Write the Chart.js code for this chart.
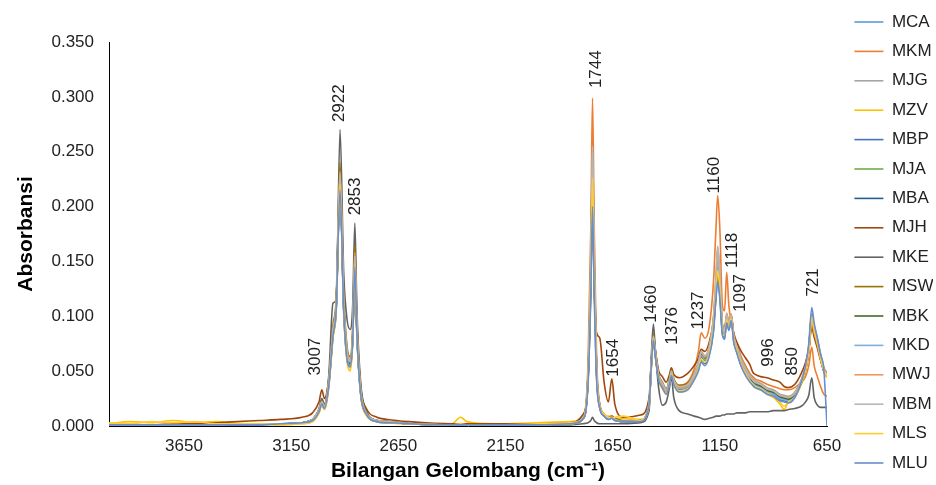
<!DOCTYPE html>
<html>
<head>
<meta charset="utf-8">
<script src="https://cdn.jsdelivr.net/npm/chart.js@4.4.0/dist/chart.umd.min.js"></script>
<style>
  html, body { margin: 0; padding: 0; background: #fff; }
  #wrap { width: 936px; height: 485px; position: relative; }
</style>
</head>
<body>
<div id="wrap"><canvas id="ftir"></canvas></div>
<script>
// wavenumber grid (cm-1), high to low
var wavenumbers = [
  4000,3900,3800,3700,3600,3500,3400,3300,3200,3100,3050,
  3020,3007,2995,2975,2955,2940,2922,2905,2890,2875,2863,2853,2843,2825,2800,
  2750,2700,2600,2400,2360,2330,2200,2000,1850,1790,
  1765,1752,1744,1736,1725,1710,1690,1670,1654,1640,1600,1520,
  1480,1470,1460,1450,1435,1418,1400,1385,1376,1365,1340,1300,
  1270,1250,1237,1220,1200,1180,1168,1160,1150,1138,1128,1118,1108,1097,1085,1070,
  1050,1030,1010,996,985,960,930,900,870,850,830,800,770,750,735,721,710,695,680,665,650
];

var xTicks = [3650, 3150, 2650, 2150, 1650, 1150, 650];

var mca = [
  0.001,0.001,0.001,0.001,0.001,0.001,0.002,0.002,0.002,0.003,0.006,
  0.014,0.021,0.017,0.038,0.084,0.108,0.220,0.110,0.066,0.056,0.080,0.148,0.085,0.030,0.012,
  0.005,0.004,0.002,0.001,0.001,0.001,0.001,0.001,0.002,0.006,
  0.045,0.140,0.235,0.140,0.050,0.018,0.010,0.007,0.008,0.006,0.004,0.005,
  0.020,0.055,0.080,0.064,0.044,0.037,0.031,0.040,0.048,0.040,0.034,0.036,
  0.045,0.055,0.064,0.060,0.068,0.092,0.125,0.148,0.128,0.088,0.084,0.098,0.090,0.100,0.080,0.070,
  0.058,0.050,0.043,0.040,0.038,0.036,0.032,0.030,0.026,0.025,0.024,0.028,0.040,0.052,0.070,0.100,0.088,0.076,0.062,0.050,0.045
];
var mkm = [
  0.001,0.001,0.001,0.001,0.001,0.001,0.002,0.002,0.002,0.003,0.006,
  0.015,0.022,0.018,0.040,0.086,0.110,0.225,0.112,0.068,0.058,0.083,0.155,0.088,0.031,0.012,
  0.005,0.004,0.002,0.001,0.001,0.001,0.001,0.001,0.002,0.007,
  0.057,0.180,0.299,0.180,0.063,0.020,0.011,0.008,0.009,0.006,0.004,0.005,
  0.019,0.052,0.077,0.062,0.044,0.038,0.033,0.042,0.052,0.043,0.037,0.040,
  0.052,0.068,0.085,0.080,0.090,0.130,0.180,0.210,0.180,0.110,0.105,0.140,0.110,0.095,0.085,0.075,
  0.063,0.055,0.048,0.045,0.043,0.041,0.038,0.036,0.034,0.033,0.033,0.035,0.040,0.045,0.055,0.072,0.055,0.045,0.036,0.029,0.027
];
var mjg = [
  0.001,0.001,0.001,0.001,0.001,0.002,0.002,0.002,0.002,0.003,0.006,
  0.015,0.022,0.018,0.040,0.088,0.112,0.228,0.114,0.068,0.058,0.082,0.152,0.087,0.031,0.012,
  0.005,0.004,0.002,0.001,0.001,0.001,0.001,0.001,0.002,0.007,
  0.048,0.153,0.255,0.153,0.054,0.019,0.010,0.007,0.008,0.006,0.004,0.005,
  0.021,0.057,0.082,0.066,0.046,0.039,0.033,0.042,0.050,0.042,0.036,0.038,
  0.047,0.058,0.068,0.064,0.072,0.098,0.135,0.163,0.138,0.092,0.087,0.100,0.093,0.102,0.083,0.073,
  0.061,0.053,0.046,0.043,0.041,0.039,0.035,0.033,0.029,0.028,0.027,0.031,0.042,0.055,0.073,0.102,0.091,0.080,0.066,0.054,0.048
];
var mzv = [
  0.002,0.004,0.003,0.005,0.003,0.004,0.002,0.002,0.001,0.002,0.004,
  0.012,0.019,0.015,0.034,0.080,0.104,0.218,0.104,0.060,0.050,0.076,0.145,0.080,0.027,0.010,
  0.004,0.003,0.002,0.002,0.008,0.004,0.002,0.003,0.004,0.007,
  0.043,0.137,0.228,0.137,0.048,0.017,0.010,0.009,0.008,0.007,0.007,0.006,
  0.018,0.052,0.078,0.062,0.042,0.034,0.029,0.037,0.046,0.038,0.031,0.033,
  0.042,0.051,0.060,0.057,0.065,0.088,0.120,0.140,0.122,0.085,0.081,0.098,0.089,0.098,0.078,0.067,
  0.055,0.047,0.040,0.037,0.035,0.033,0.029,0.026,0.020,0.015,0.022,0.026,0.038,0.050,0.068,0.098,0.087,0.075,0.061,0.050,0.044
];
var mbp = [
  0.001,0.001,0.001,0.001,0.001,0.001,0.001,0.002,0.002,0.003,0.005,
  0.013,0.020,0.016,0.036,0.082,0.106,0.216,0.106,0.062,0.054,0.078,0.146,0.082,0.028,0.011,
  0.004,0.003,0.002,0.001,0.001,0.001,0.001,0.001,0.002,0.006,
  0.041,0.129,0.215,0.129,0.045,0.016,0.009,0.006,0.007,0.005,0.004,0.004,
  0.019,0.054,0.079,0.063,0.043,0.036,0.030,0.039,0.047,0.039,0.032,0.034,
  0.043,0.052,0.060,0.057,0.065,0.087,0.118,0.135,0.118,0.084,0.080,0.095,0.088,0.097,0.077,0.067,
  0.055,0.047,0.041,0.038,0.036,0.034,0.030,0.028,0.024,0.023,0.022,0.027,0.040,0.053,0.072,0.102,0.090,0.078,0.064,0.052,0.046
];
var mja = [
  0.001,0.001,0.001,0.001,0.001,0.001,0.002,0.002,0.002,0.003,0.006,
  0.014,0.021,0.017,0.039,0.086,0.110,0.226,0.112,0.067,0.057,0.081,0.150,0.086,0.030,0.012,
  0.005,0.004,0.002,0.001,0.001,0.001,0.001,0.001,0.002,0.006,
  0.046,0.144,0.240,0.144,0.050,0.018,0.010,0.007,0.008,0.006,0.004,0.005,
  0.020,0.055,0.081,0.065,0.045,0.038,0.032,0.041,0.049,0.041,0.035,0.037,
  0.046,0.056,0.065,0.061,0.069,0.093,0.127,0.150,0.130,0.090,0.086,0.102,0.094,0.101,0.081,0.071,
  0.059,0.051,0.044,0.041,0.039,0.037,0.033,0.031,0.027,0.026,0.025,0.029,0.040,0.051,0.068,0.096,0.086,0.075,0.061,0.050,0.045
];
var mba = [
  0.001,0.001,0.001,0.001,0.001,0.001,0.002,0.002,0.002,0.003,0.006,
  0.014,0.021,0.017,0.038,0.084,0.108,0.220,0.109,0.065,0.055,0.080,0.148,0.084,0.029,0.012,
  0.005,0.004,0.002,0.001,0.001,0.001,0.001,0.001,0.002,0.006,
  0.044,0.139,0.232,0.139,0.049,0.018,0.010,0.007,0.008,0.006,0.004,0.005,
  0.020,0.055,0.080,0.064,0.044,0.037,0.031,0.040,0.048,0.040,0.034,0.036,
  0.045,0.055,0.063,0.060,0.068,0.091,0.124,0.145,0.126,0.088,0.084,0.099,0.091,0.100,0.080,0.070,
  0.058,0.050,0.043,0.040,0.038,0.036,0.032,0.030,0.026,0.025,0.024,0.028,0.039,0.051,0.069,0.098,0.087,0.076,0.062,0.050,0.045
];
var mjh = [
  0.001,0.001,0.001,0.002,0.002,0.003,0.004,0.005,0.006,0.008,0.012,
  0.022,0.033,0.025,0.042,0.086,0.110,0.225,0.113,0.070,0.060,0.084,0.152,0.088,0.034,0.016,
  0.008,0.006,0.004,0.002,0.002,0.002,0.002,0.002,0.003,0.010,
  0.040,0.125,0.205,0.125,0.085,0.080,0.040,0.022,0.043,0.020,0.008,0.010,
  0.026,0.058,0.082,0.068,0.050,0.045,0.040,0.047,0.053,0.047,0.044,0.048,
  0.055,0.062,0.070,0.068,0.076,0.096,0.125,0.140,0.124,0.092,0.088,0.097,0.092,0.100,0.084,0.076,
  0.068,0.062,0.056,0.049,0.047,0.045,0.044,0.042,0.040,0.036,0.035,0.038,0.048,0.058,0.070,0.090,0.081,0.071,0.060,0.052,0.048
];
var mke = [
  0.001,0.001,0.001,0.001,0.001,0.001,0.001,0.001,0.002,0.003,0.006,
  0.016,0.025,0.020,0.045,0.112,0.115,0.270,0.140,0.098,0.088,0.110,0.185,0.105,0.038,0.014,
  0.005,0.004,0.002,0.001,0.001,0.001,0.001,0.001,0.001,0.002,
  0.003,0.005,0.008,0.005,0.003,0.002,0.002,0.002,0.002,0.002,0.002,0.003,
  0.014,0.062,0.093,0.066,0.034,0.019,0.022,0.035,0.045,0.026,0.014,0.011,
  0.009,0.008,0.007,0.006,0.007,0.008,0.009,0.009,0.009,0.010,0.010,0.011,0.011,0.011,0.011,0.012,
  0.012,0.012,0.013,0.013,0.013,0.013,0.013,0.014,0.014,0.014,0.015,0.016,0.018,0.022,0.028,0.044,0.026,0.019,0.017,0.017,0.017
];
var msw = [
  0.001,0.001,0.001,0.001,0.001,0.001,0.002,0.002,0.002,0.003,0.006,
  0.015,0.023,0.018,0.042,0.092,0.116,0.240,0.120,0.074,0.063,0.090,0.165,0.094,0.034,0.013,
  0.005,0.004,0.002,0.001,0.001,0.001,0.001,0.001,0.002,0.007,
  0.047,0.147,0.245,0.147,0.051,0.019,0.011,0.008,0.009,0.007,0.005,0.005,
  0.021,0.058,0.084,0.068,0.047,0.040,0.034,0.043,0.051,0.043,0.037,0.039,
  0.048,0.058,0.066,0.062,0.070,0.092,0.122,0.142,0.124,0.090,0.086,0.100,0.093,0.101,0.082,0.072,
  0.060,0.052,0.045,0.042,0.040,0.038,0.034,0.032,0.028,0.027,0.026,0.030,0.041,0.052,0.068,0.094,0.085,0.075,0.062,0.051,0.046
];
var mbk = [
  0.001,0.001,0.001,0.001,0.001,0.001,0.002,0.002,0.002,0.003,0.006,
  0.014,0.021,0.017,0.038,0.085,0.109,0.222,0.110,0.066,0.056,0.080,0.149,0.085,0.030,0.012,
  0.005,0.004,0.002,0.001,0.001,0.001,0.001,0.001,0.002,0.006,
  0.045,0.143,0.238,0.143,0.050,0.018,0.010,0.007,0.008,0.006,0.004,0.005,
  0.020,0.055,0.080,0.064,0.044,0.037,0.031,0.040,0.048,0.040,0.034,0.036,
  0.045,0.055,0.064,0.060,0.068,0.092,0.125,0.147,0.127,0.090,0.086,0.101,0.093,0.100,0.080,0.070,
  0.058,0.050,0.043,0.040,0.038,0.036,0.032,0.030,0.026,0.025,0.024,0.028,0.039,0.051,0.069,0.097,0.087,0.076,0.062,0.050,0.045
];
var mkd = [
  0.001,0.001,0.001,0.001,0.001,0.001,0.002,0.002,0.002,0.003,0.006,
  0.014,0.021,0.017,0.037,0.083,0.107,0.219,0.108,0.064,0.055,0.079,0.147,0.083,0.029,0.011,
  0.005,0.004,0.002,0.001,0.001,0.001,0.001,0.001,0.002,0.006,
  0.044,0.138,0.230,0.138,0.048,0.017,0.010,0.007,0.008,0.006,0.004,0.005,
  0.020,0.055,0.080,0.064,0.044,0.037,0.031,0.040,0.048,0.040,0.034,0.036,
  0.045,0.055,0.064,0.060,0.068,0.093,0.127,0.150,0.130,0.089,0.085,0.097,0.090,0.099,0.079,0.069,
  0.057,0.049,0.042,0.039,0.037,0.035,0.031,0.029,0.025,0.024,0.023,0.027,0.040,0.053,0.071,0.101,0.089,0.077,0.063,0.051,0.045
];
var mwj = [
  0.001,0.001,0.001,0.001,0.001,0.001,0.002,0.002,0.002,0.003,0.006,
  0.015,0.022,0.018,0.040,0.088,0.112,0.232,0.116,0.070,0.060,0.086,0.158,0.090,0.032,0.012,
  0.005,0.004,0.002,0.001,0.001,0.001,0.001,0.001,0.002,0.007,
  0.047,0.149,0.248,0.149,0.052,0.019,0.011,0.008,0.008,0.006,0.004,0.005,
  0.020,0.056,0.081,0.065,0.045,0.038,0.032,0.041,0.049,0.041,0.035,0.037,
  0.047,0.058,0.067,0.063,0.071,0.097,0.134,0.160,0.136,0.092,0.087,0.103,0.094,0.102,0.082,0.072,
  0.060,0.052,0.045,0.042,0.040,0.038,0.034,0.032,0.028,0.027,0.026,0.030,0.040,0.051,0.068,0.095,0.085,0.074,0.061,0.050,0.045
];
var mbm = [
  0.001,0.001,0.001,0.001,0.001,0.001,0.002,0.002,0.002,0.003,0.006,
  0.015,0.022,0.018,0.040,0.087,0.111,0.230,0.115,0.069,0.059,0.084,0.155,0.088,0.031,0.012,
  0.005,0.004,0.002,0.001,0.001,0.001,0.001,0.001,0.002,0.007,
  0.048,0.153,0.255,0.153,0.054,0.019,0.010,0.007,0.008,0.006,0.004,0.005,
  0.021,0.057,0.082,0.066,0.046,0.039,0.033,0.042,0.050,0.042,0.036,0.038,
  0.047,0.058,0.068,0.064,0.072,0.099,0.136,0.164,0.139,0.092,0.087,0.101,0.093,0.101,0.082,0.072,
  0.060,0.052,0.045,0.042,0.040,0.038,0.034,0.032,0.028,0.027,0.026,0.030,0.042,0.054,0.072,0.100,0.090,0.079,0.065,0.053,0.047
];
var mls = [
  0.003,0.002,0.004,0.003,0.004,0.002,0.002,0.002,0.001,0.002,0.004,
  0.012,0.019,0.015,0.035,0.081,0.105,0.220,0.105,0.061,0.051,0.077,0.146,0.081,0.028,0.010,
  0.004,0.003,0.002,0.001,0.002,0.001,0.001,0.002,0.003,0.006,
  0.043,0.136,0.226,0.136,0.047,0.017,0.011,0.008,0.007,0.008,0.009,0.005,
  0.018,0.053,0.079,0.063,0.043,0.035,0.030,0.038,0.047,0.039,0.032,0.034,
  0.043,0.052,0.061,0.058,0.066,0.089,0.121,0.142,0.124,0.086,0.082,0.097,0.089,0.098,0.078,0.068,
  0.056,0.048,0.041,0.038,0.036,0.034,0.030,0.027,0.022,0.018,0.022,0.026,0.039,0.051,0.069,0.099,0.088,0.076,0.062,0.051,0.045
];
var mlu = [
  0.001,0.001,0.001,0.001,0.001,0.001,0.001,0.001,0.002,0.003,0.005,
  0.013,0.020,0.016,0.036,0.082,0.106,0.215,0.106,0.062,0.054,0.078,0.145,0.082,0.028,0.011,
  0.004,0.003,0.002,0.001,0.001,0.001,0.001,0.001,0.002,0.006,
  0.038,0.120,0.200,0.120,0.042,0.016,0.009,0.006,0.007,0.005,0.004,0.004,
  0.019,0.054,0.078,0.062,0.042,0.035,0.029,0.038,0.046,0.038,0.031,0.033,
  0.042,0.050,0.058,0.055,0.063,0.085,0.116,0.132,0.116,0.083,0.079,0.094,0.087,0.096,0.076,0.066,
  0.054,0.046,0.040,0.037,0.035,0.033,0.029,0.027,0.023,0.022,0.021,0.026,0.040,0.055,0.075,0.108,0.094,0.080,0.065,0.052,0.000
];

var seriesNames = ['MCA','MKM','MJG','MZV','MBP','MJA','MBA','MJH','MKE','MSW','MBK','MKD','MWJ','MBM','MLS','MLU'];
var seriesValues = [mca, mkm, mjg, mzv, mbp, mja, mba, mjh, mke, msw, mbk, mkd, mwj, mbm, mls, mlu];
var seriesColors = ['#5B9BD5','#ED7D31','#A5A5A5','#FFC000','#4472C4','#70AD47','#255E91','#9E480E',
                    '#636363','#997300','#43682B','#7CAFDD','#F1975A','#B7B7B7','#FFCD33','#698ED0'];

// peak labels: text, anchor wavenumber, anchor absorbance (text runs upward from the anchor)
var peakTexts = ['3007','2922','2853','1744','1654','1460','1376','1237','1160','1118','1097','996','850','721'];
var peakX     = [3039, 2927, 2852, 1727, 1648, 1471, 1373, 1251, 1177, 1093, 1056, 925, 813, 715];
var peakY     = [0.046, 0.277, 0.192, 0.308, 0.045, 0.094, 0.074, 0.088, 0.212, 0.144, 0.104, 0.054, 0.046, 0.118];

var FONT = "'Liberation Sans', Arial, sans-serif";
var TEXT = '#222';

var peakLabelPlugin = {
  id: 'peakLabels',
  afterDatasetsDraw: function(chart) {
    var ctx = chart.ctx;
    var xs = chart.scales.x, ys = chart.scales.y;
    ctx.save();
    ctx.font = '17px ' + FONT;
    ctx.fillStyle = TEXT;
    ctx.textAlign = 'left';
    ctx.textBaseline = 'middle';
    peakTexts.forEach(function(t, i) {
      ctx.save();
      ctx.translate(xs.getPixelForValue(peakX[i]), ys.getPixelForValue(peakY[i]));
      ctx.rotate(-Math.PI / 2);
      ctx.fillText(t, 0, 0);
      ctx.restore();
    });
    ctx.restore();
  }
};

// legend sits flush against the plot; nudge it right like the original
var legendShift = {
  id: 'legendShift',
  afterLayout: function(chart) {
    chart.legend.left += 15;
    chart.legend.right += 15;
  }
};

var datasets = seriesNames.map(function(name, i) {
  return {
    label: name,
    data: wavenumbers.map(function(w, j) { return {x: w, y: seriesValues[i][j]}; }),
    borderColor: seriesColors[i],
    backgroundColor: seriesColors[i],
    borderWidth: 1.6,
    pointRadius: 0,
    cubicInterpolationMode: 'monotone',
    order: seriesNames.length - i
  };
});

var ctx = document.getElementById('ftir').getContext('2d');
var chart = new Chart(ctx, {
  type: 'line',
  data: { datasets: datasets },
  plugins: [peakLabelPlugin, legendShift],
  options: {
    responsive: true,
    maintainAspectRatio: false,
    animation: false,
    plugins: {
      tooltip: { enabled: false },
      legend: {
        position: 'right',
        maxWidth: 91,
        labels: {
          usePointStyle: true,
          pointStyle: 'line',
          pointStyleWidth: 29,
          padding: 12.4,
          color: TEXT,
          font: { family: FONT, size: 17 },
          sort: function(a, b) { return a.datasetIndex - b.datasetIndex; }
        }
      }
    },
    scales: {
      x: {
        type: 'linear',
        reverse: true,
        min: 650,
        max: 4000,
        grid: { display: false, drawTicks: false },
        border: { display: true, color: '#000', width: 1 },
        ticks: {
          color: TEXT,
          font: { family: FONT, size: 17 },
          padding: 10,
          maxRotation: 0,
          callback: function(v) { return String(v); }
        },
        afterBuildTicks: function(axis) {
          axis.ticks = xTicks.map(function(v) { return {value: v}; });
        },
        afterFit: function(axis) {
          axis.paddingRight = 109;
          axis.height = 59;
        },
        title: {
          display: true,
          text: 'Bilangan Gelombang (cm\u207B\u00B9)',
          color: '#000',
          font: { family: FONT, size: 21, weight: 'bold' },
          padding: { top: 0, bottom: 1 }
        }
      },
      y: {
        min: 0,
        max: 0.35,
        grid: { display: false, drawTicks: false },
        border: { display: true, color: '#000', width: 1 },
        ticks: {
          stepSize: 0.05,
          color: TEXT,
          padding: 15,
          font: { family: FONT, size: 17 },
          callback: function(v) { return v.toFixed(3); }
        },
        afterFit: function(axis) {
          axis.width = 109;
          axis.paddingTop = 42;
        },
        title: {
          display: true,
          text: 'Absorbansi',
          color: '#000',
          font: { family: FONT, size: 21, weight: 'bold' },
          padding: { top: 14, bottom: 0 }
        }
      }
    }
  }
});
</script>
</body>
</html>
